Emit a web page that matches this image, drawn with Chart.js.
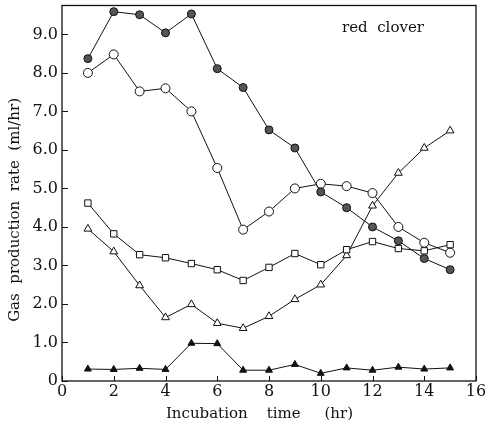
<!DOCTYPE html>
<html>
<head>
<meta charset="utf-8">
<script src="https://cdn.jsdelivr.net/npm/chart.js@4"></script>
<style>
  html, body { margin: 0; padding: 0; background: #fff; }
  #wrap { width: 490px; height: 427px; }
</style>
</head>
<body>
<div id="wrap"><canvas id="graph"></canvas></div>
<script>
// incubation hours
const hours = [1, 2, 3, 4, 5, 6, 7, 8, 9, 10, 11, 12, 13, 14, 15]

// gas production rate (ml/hr)
const filledCircle = [8.37, 9.59, 9.51, 9.04, 9.53, 8.11, 7.62, 6.52, 6.05, 4.91, 4.5, 4.0, 3.64, 3.18, 2.89]
const openCircle = [8.0, 8.48, 7.52, 7.6, 7.0, 5.53, 3.93, 4.4, 5.0, 5.12, 5.06, 4.88, 4.0, 3.59, 3.33]
const openSquare = [4.62, 3.82, 3.28, 3.2, 3.05, 2.89, 2.61, 2.95, 3.31, 3.02, 3.41, 3.62, 3.44, 3.38, 3.54]
const openTriangle = [3.95, 3.36, 2.48, 1.65, 1.99, 1.5, 1.37, 1.68, 2.12, 2.5, 3.26, 4.55, 5.4, 6.05, 6.5]
const filledTriangle = [0.31, 0.3, 0.33, 0.3, 0.98, 0.97, 0.28, 0.28, 0.43, 0.2, 0.34, 0.28, 0.36, 0.31, 0.34]

const serif = '"DejaVu Serif", "Liberation Serif", serif'

function series(values, style, fill, radius) {
  return {
    data: values.map((v, i) => ({ x: hours[i], y: v })),
    borderColor: '#111',
    borderWidth: 1,
    pointStyle: style,
    pointRadius: radius,
    pointBackgroundColor: fill,
    pointBorderColor: '#111',
    pointBorderWidth: 1,
    tension: 0,
  }
}

// inward tick marks, the frame and the sample label
const frame = {
  id: 'frame',
  afterDraw(chart) {
    const ctx = chart.ctx
    const a = chart.chartArea
    const xs = chart.scales.x
    const ys = chart.scales.y
    ctx.save()
    ctx.strokeStyle = '#111'
    ctx.lineWidth = 1.3
    ctx.strokeRect(a.left, a.top, a.right - a.left, a.bottom - a.top)
    ctx.lineWidth = 1
    ctx.beginPath()
    xs.ticks.forEach(t => {
      const px = Math.round(xs.getPixelForValue(t.value)) + 0.5
      ctx.moveTo(px, a.bottom)
      ctx.lineTo(px, a.bottom - 5)
    })
    ys.ticks.forEach(t => {
      const py = Math.round(ys.getPixelForValue(t.value)) + 0.5
      ctx.moveTo(a.left, py)
      ctx.lineTo(a.left + 6, py)
    })
    ctx.stroke()
    ctx.fillStyle = '#111'
    ctx.font = '15px ' + serif
    ctx.textAlign = 'left'
    ctx.textBaseline = 'middle'
    ctx.fillText('red  clover', a.right - 134, a.top + 23)
    ctx.restore()
  }
}

document.addEventListener('DOMContentLoaded', function() {
  new Chart(document.getElementById('graph'), {
    type: 'line',
    data: {
      datasets: [
        series(filledCircle, 'circle', '#555', 4),
        series(openCircle, 'circle', '#fff', 4.5),
        series(openSquare, 'rect', '#fff', 4.5),
        series(openTriangle, 'triangle', '#fff', 4.5),
        series(filledTriangle, 'triangle', '#111', 4),
      ]
    },
    options: {
      responsive: true,
      maintainAspectRatio: false,
      animation: false,
      layout: { padding: { top: 5, right: 14, bottom: 4, left: 6 } },
      plugins: { legend: { display: false }, tooltip: { enabled: false } },
      scales: {
        x: {
          type: 'linear',
          min: 0,
          max: 16,
          afterFit(scale) { scale.height = 42 },
          ticks: { stepSize: 2, color: '#111', font: { family: serif, size: 16 }, padding: 1 },
          grid: { display: false, drawTicks: false, tickLength: 0 },
          border: { display: false },
          title: {
            display: true,
            text: 'Incubation    time     (hr)    ',
            color: '#111',
            font: { family: serif, size: 15 },
            padding: { top: 0, bottom: 0 }
          }
        },
        y: {
          type: 'linear',
          min: 0,
          max: 9.75,
          afterFit(scale) {
            scale.width = 56
            scale.paddingTop = 0
            scale.paddingBottom = 0
          },
          afterBuildTicks(scale) {
            scale.ticks = scale.ticks.filter(t => Number.isInteger(t.value))
          },
          ticks: {
            stepSize: 1,
            color: '#111',
            font: { family: serif, size: 16 },
            padding: 4,
            callback: v => v === 0 ? '0' : v.toFixed(1)
          },
          grid: { display: false, drawTicks: false, tickLength: 0 },
          border: { display: false },
          title: {
            display: true,
            text: 'Gas  production  rate  (ml/hr)' + ' '.repeat(7),
            color: '#111',
            font: { family: serif, size: 15 },
            padding: { top: 0, bottom: 0 }
          }
        }
      }
    },
    plugins: [frame]
  })
})
</script>
</body>
</html>
